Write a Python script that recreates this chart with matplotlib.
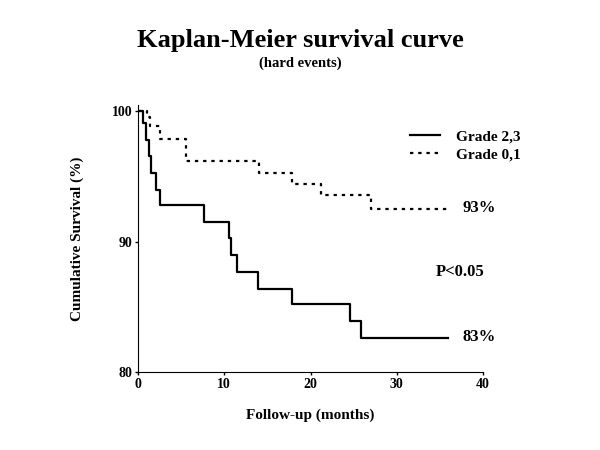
import matplotlib
matplotlib.use("Agg")
import matplotlib.pyplot as plt

# Kaplan-Meier step data (months, survival %)
t_high = [0, 0.6, 0.9, 1.3, 1.5, 2.1, 2.6, 7.6, 10.5, 10.8, 11.5, 13.9, 17.8, 24.6, 25.8, 36]
s_high = [100, 99.1, 97.8, 96.6, 95.3, 94.0, 92.8, 91.5, 90.3, 89.0, 87.7, 86.4, 85.2, 83.9, 82.6, 82.6]

t_low = [0, 1.0, 1.4, 2.6, 5.6, 14.0, 17.8, 21.2, 27.0, 36]
s_low = [100, 99.6, 98.9, 97.9, 96.2, 95.3, 94.4, 93.6, 92.5, 92.5]

label_high = "Grade 2,3"
label_low = "Grade 0,1"
pct_high = "83%"
pct_low = "93%"
p_text = "P<0.05"

plt.rcParams['font.family'] = ['Liberation Serif', 'DejaVu Serif']
plt.rcParams['font.weight'] = 'bold'

fig = plt.figure(figsize=(6, 4.5), dpi=100)
ax = fig.add_axes([0.23, 0.173, 0.575, 0.594])

ax.step(t_high, s_high, where='post', color='black', lw=1.6, label=label_high)
ax.step(t_low, s_low, where='post', color='black', lw=1.6,
        linestyle=(0, (1.5, 2.2)), label=label_low)

ax.set_xlim(0, 40)
ax.set_ylim(80, 100.5)
ax.set_xticks([0, 10, 20, 30, 40])
ax.set_yticks([80, 90, 100])
ax.tick_params(direction='out', length=2, width=1, labelsize=10, pad=2)
for lab in ax.get_xticklabels() + ax.get_yticklabels():
    lab.set_fontweight('bold')
for s in ['top', 'right']:
    ax.spines[s].set_visible(False)

ax.set_xlabel("Follow-up (months)", fontsize=11, fontweight='bold', labelpad=13)
ax.set_ylabel("Cumulative Survival (%)", fontsize=11, fontweight='bold', labelpad=20)

ax.text(37.6, 92.6, pct_low, fontsize=12, fontweight='bold', va='center', clip_on=False)
ax.text(37.6, 82.7, pct_high, fontsize=12, fontweight='bold', va='center', clip_on=False)
ax.text(34.5, 87.7, p_text, fontsize=12, fontweight='bold', va='center', clip_on=False)

leg = ax.legend(loc='upper left', bbox_to_anchor=(0.77, 0.93), frameon=False,
                fontsize=11, handlelength=2.0, handletextpad=1.0, labelspacing=0.3,
                borderaxespad=0)
for txt in leg.get_texts():
    txt.set_fontweight('bold')

fig.text(0.5, 0.91, "Kaplan-Meier survival curve", ha='center', va='center',
         fontsize=19, fontweight='bold')
fig.text(0.5, 0.86, "(hard events)", ha='center', va='center',
         fontsize=10.5, fontweight='bold')

fig.savefig("out.png", dpi=100)
